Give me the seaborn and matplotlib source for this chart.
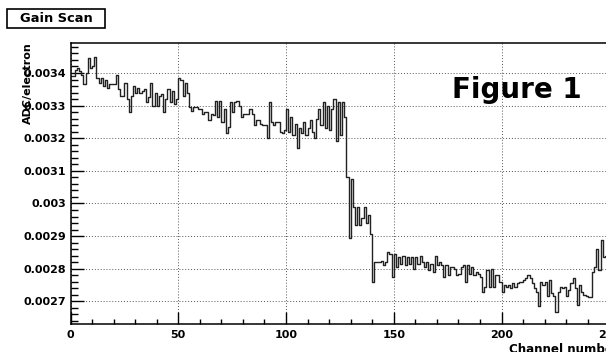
import numpy as np
import pandas as pd
import matplotlib
matplotlib.use("Agg")
import matplotlib.pyplot as plt
from matplotlib.ticker import MultipleLocator, FuncFormatter
from matplotlib.patches import Rectangle
import seaborn as sns

# ---- data (ADC/electron, in units of 1e-4), one value per channel 0..255 ----
adc_e4 = [
    33.9, 33.9, 34.1, 34.15, 34.05, 33.95, 33.65, 34.0, 34.45, 34.15,
    34.2, 34.5, 33.85, 33.7, 33.85, 33.6, 33.8, 33.55, 33.65, 33.65,
    33.65, 33.95, 33.5, 33.3, 33.3, 33.7, 33.2, 32.8, 33.3, 33.6,
    33.4, 33.55, 33.4, 33.45, 33.5, 33.1, 33.25, 33.7, 33.0, 33.4,
    33.0, 33.3, 33.35, 32.8, 33.2, 33.5, 33.1, 33.45, 33.05, 33.2,
    33.85, 33.8, 33.3, 33.7, 33.4, 32.95, 32.85, 32.95, 32.95, 32.9,
    32.9, 32.75, 32.8, 32.8, 32.55, 32.75, 32.7, 33.15, 32.65, 33.15,
    32.5, 32.9, 32.15, 32.35, 33.1, 32.8, 33.1, 33.15, 33.0, 32.65,
    32.75, 32.75, 32.75, 32.9, 32.75, 32.4, 32.55, 32.55, 32.45, 32.4,
    32.4, 32.0, 33.1, 32.5, 32.4, 32.5, 32.5, 32.2, 32.15, 32.25,
    32.9, 32.2, 32.65, 32.1, 32.45, 31.7, 32.3, 32.15, 32.5, 32.1,
    32.3, 32.55, 32.2, 32.0, 32.6, 32.9, 32.4, 33.1, 32.3, 33.0,
    32.25, 32.9, 33.2, 31.9, 33.1, 32.1, 33.1, 32.66, 30.8, 28.95,
    30.75, 29.9, 29.35, 29.9, 29.35, 29.55, 29.9, 29.4, 29.65, 29.05,
    27.6, 28.2, 28.2, 28.2, 28.25, 28.1, 28.2, 28.5, 28.45, 27.75,
    28.45, 28.05, 28.35, 28.15, 28.4, 28.1, 28.35, 28.15, 28.35, 28.0,
    28.35, 28.15, 28.4, 28.2, 28.05, 28.2, 27.95, 28.15, 27.9, 28.4,
    28.1, 28.2, 28.1, 27.75, 28.1, 27.8, 28.05, 28.05, 28.0, 27.8,
    27.85, 28.05, 28.1, 27.6, 28.1, 27.85, 28.05, 27.8, 27.9, 27.85,
    27.75, 27.27, 27.45, 27.95, 27.45, 28.0, 27.45, 27.8, 27.8, 27.6,
    27.3, 27.5, 27.45, 27.5, 27.4, 27.55, 27.45, 27.55, 27.6, 27.6,
    27.65, 27.7, 27.8, 27.7, 27.55, 27.4, 27.3, 26.85, 27.6, 27.5,
    27.6, 27.17, 27.65, 27.25, 27.15, 26.66, 27.3, 27.45, 27.4, 27.45,
    27.15, 27.35, 27.55, 27.7, 27.4, 26.9, 27.5, 27.3, 27.2, 27.15,
    27.12, 27.12, 27.9, 28.05, 28.6, 27.95, 28.87, 28.35, 28.4, 28.3,
    28.5, 28.35, 28.4, 28.3, 28.45, 28.4,
]
channels = np.arange(len(adc_e4))
adc_per_electron = np.array(adc_e4) * 1e-4

title_text = "Gain Scan"
x_label = "Channel number"
y_label = "ADC/electron"
annotation = "Figure 1"
x_ticks = [0, 50, 100, 150, 200, 250]
y_ticks = [0.0027, 0.0028, 0.0029, 0.003, 0.0031, 0.0032, 0.0033, 0.0034]

df = pd.DataFrame({"channel": channels, "adc": adc_per_electron})

sns.set_theme(style="white")
plt.rcParams["font.family"] = ["DejaVu Sans"]
plt.rcParams["font.weight"] = "bold"

W, H = 606, 352
fig = plt.figure(figsize=(W / 100, H / 100), dpi=100)
fig.patch.set_facecolor("white")

x0_px, x256_px = 70.5, 622.2
top_px, bot_px = 43, 324
ax = fig.add_axes([x0_px / W, (H - bot_px) / H, (x256_px - x0_px) / W, (bot_px - top_px) / H])
ax.set_facecolor("white")

sns.histplot(data=df, x="channel", weights="adc", bins=256, binrange=(0, 256),
             element="step", fill=False, color="#222222", linewidth=1.0, ax=ax)

ax.set_xlim(0, 256)
ax.set_ylim(0.0026304, 0.003492)

ax.set_xticks(x_ticks)
ax.xaxis.set_minor_locator(MultipleLocator(10))
ax.set_yticks(y_ticks)
ax.yaxis.set_minor_locator(MultipleLocator(0.00002))
ax.yaxis.set_major_formatter(FuncFormatter(lambda v, p: "%g" % round(v, 6)))

ax.tick_params(axis="both", which="both", direction="in", colors="black",
               labelsize=8, bottom=True, left=True, top=False, right=False)
ax.tick_params(axis="x", which="major", length=9, width=1, pad=4)
ax.tick_params(axis="x", which="minor", length=3.5, width=1)
ax.tick_params(axis="y", which="major", length=9, width=1, pad=3)
ax.tick_params(axis="y", which="minor", length=5, width=1)
for lab in ax.get_xticklabels() + ax.get_yticklabels():
    lab.set_fontweight("bold")

ax.grid(True, which="major", color="#555555", linestyle=(0, (1, 2)), linewidth=0.7)
for s in ax.spines.values():
    s.set_color("black")
    s.set_linewidth(1.1)

ax.set_xlabel("")
ax.set_ylabel("")

fig.text(509 / W, (H - 343) / H, x_label, ha="left", va="top", fontsize=8.6,
         fontweight="bold", color="black")
fig.text(28 / W, (H - 42) / H, y_label, ha="center", va="top", rotation=90,
         fontsize=8, fontweight="bold", color="black")

# title box
fig.add_artist(Rectangle((7 / W, (H - 28) / H), 98 / W, 19 / H, transform=fig.transFigure,
                         facecolor="white", edgecolor="black", linewidth=1.2))
fig.text(56 / W, (H - 18.5) / H, title_text, ha="center", va="center", fontsize=9.4,
         fontweight="bold", color="black")

fig.text(452 / W, (H - 90) / H, annotation, ha="left", va="center", fontsize=20,
         fontweight="bold", color="black")

fig.savefig("out.png", dpi=100, facecolor="white")
